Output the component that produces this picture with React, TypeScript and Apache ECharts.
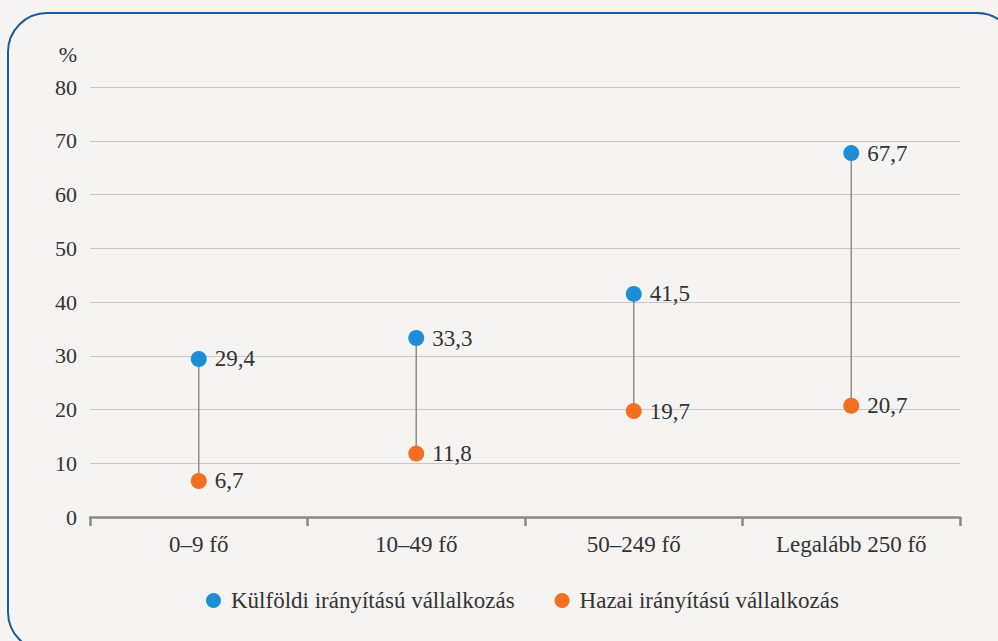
import React, { useEffect, useRef } from "react";
import * as echarts from "echarts";

const categories = ["0–9 fő", "10–49 fő", "50–249 fő", "Legalább 250 fő"];
const foreignValues = [29.4, 33.3, 41.5, 67.7];
const domesticValues = [6.7, 11.8, 19.7, 20.7];
const seriesNames = ["Külföldi irányítású vállalkozás", "Hazai irányítású vállalkozás"];

const FONT = "Liberation Serif";
const BLUE = "#1e8fd6";
const ORANGE = "#f36f21";
const TXT = "#333333";

const fmtNum = (v: number) => String(v).replace(".", ",");

export default function App() {
  const ref = useRef<HTMLDivElement>(null);
  useEffect(() => {
    if (!ref.current) return;
    const chart = echarts.init(ref.current, null, { renderer: "svg" });
    const rangeData = categories.map((c, i) => [i, foreignValues[i], domesticValues[i]]);
    const valueLabel = {
      show: true,
      position: "right",
      distance: 8,
      formatter: (p: any) => fmtNum(p.value),
      fontFamily: FONT,
      fontSize: 23,
      color: TXT,
    };
    chart.setOption({
      animation: false,
      textStyle: { fontFamily: FONT },
      grid: { left: 90, right: 38, top: 87, bottom: 124, containLabel: false },
      legend: {
        top: 584,
        left: 201,
        itemGap: 40,
        itemWidth: 15,
        itemHeight: 15,
        icon: "circle",
        textStyle: { fontFamily: FONT, fontSize: 23, color: TXT, padding: [0, 0, 0, 5] },
        data: seriesNames,
      },
      xAxis: {
        type: "category",
        data: categories,
        boundaryGap: true,
        axisLine: { lineStyle: { color: "#8a8a8a", width: 2.5 } },
        axisTick: { show: true, length: 9, lineStyle: { color: "#8a8a8a", width: 2.5 } },
        axisLabel: { interval: 0, fontFamily: FONT, fontSize: 23, color: TXT, margin: 16 },
      },
      yAxis: {
        type: "value",
        min: 0,
        max: 80,
        interval: 10,
        name: "%",
        nameLocation: "end",
        nameGap: 22,
        nameTextStyle: { fontFamily: FONT, fontSize: 22, color: TXT, align: "right", padding: [0, 13, 0, 0] },
        axisLine: { show: false },
        axisTick: { show: false },
        splitLine: { lineStyle: { color: "#c8c8c8", width: 1 } },
        axisLabel: { fontFamily: FONT, fontSize: 22, color: TXT, margin: 13 },
      },
      series: [
        {
          type: "custom",
          name: "range",
          silent: true,
          data: rangeData,
          encode: { x: 0, y: [1, 2] },
          renderItem: (params: any, api: any) => {
            const p1 = api.coord([api.value(0), api.value(1)]);
            const p2 = api.coord([api.value(0), api.value(2)]);
            return {
              type: "line",
              shape: { x1: p1[0], y1: p1[1], x2: p2[0], y2: p2[1] },
              style: { stroke: "#8e8e8e", lineWidth: 1.5 },
            };
          },
          z: 1,
        },
        {
          type: "scatter",
          name: seriesNames[0],
          data: foreignValues,
          symbol: "circle",
          symbolSize: 16,
          itemStyle: { color: BLUE, opacity: 1 },
          label: valueLabel,
          z: 3,
        },
        {
          type: "scatter",
          name: seriesNames[1],
          data: domesticValues,
          symbol: "circle",
          symbolSize: 16,
          itemStyle: { color: ORANGE, opacity: 1 },
          label: valueLabel,
          z: 3,
        },
      ],
    });
    return () => chart.dispose();
  }, []);

  return (
    <div style={{ position: "fixed", left: 0, top: 0, width: 998, height: 641, overflow: "hidden", background: "#f5f4f2" }}>
      <style>{`#chartbox svg text, #chartbox svg tspan { font-family: "Liberation Serif", "Times New Roman", serif !important; }`}</style>
      <div
        style={{
          position: "absolute",
          left: 7,
          top: 12,
          width: 1010,
          height: 640,
          border: "2px solid #1a5c9c",
          borderRadius: 40,
          boxSizing: "border-box",
        }}
      />
      <div id="chartbox" ref={ref} style={{ position: "absolute", left: 0, top: 0, width: 998, height: 641 }} />
    </div>
  );
}
